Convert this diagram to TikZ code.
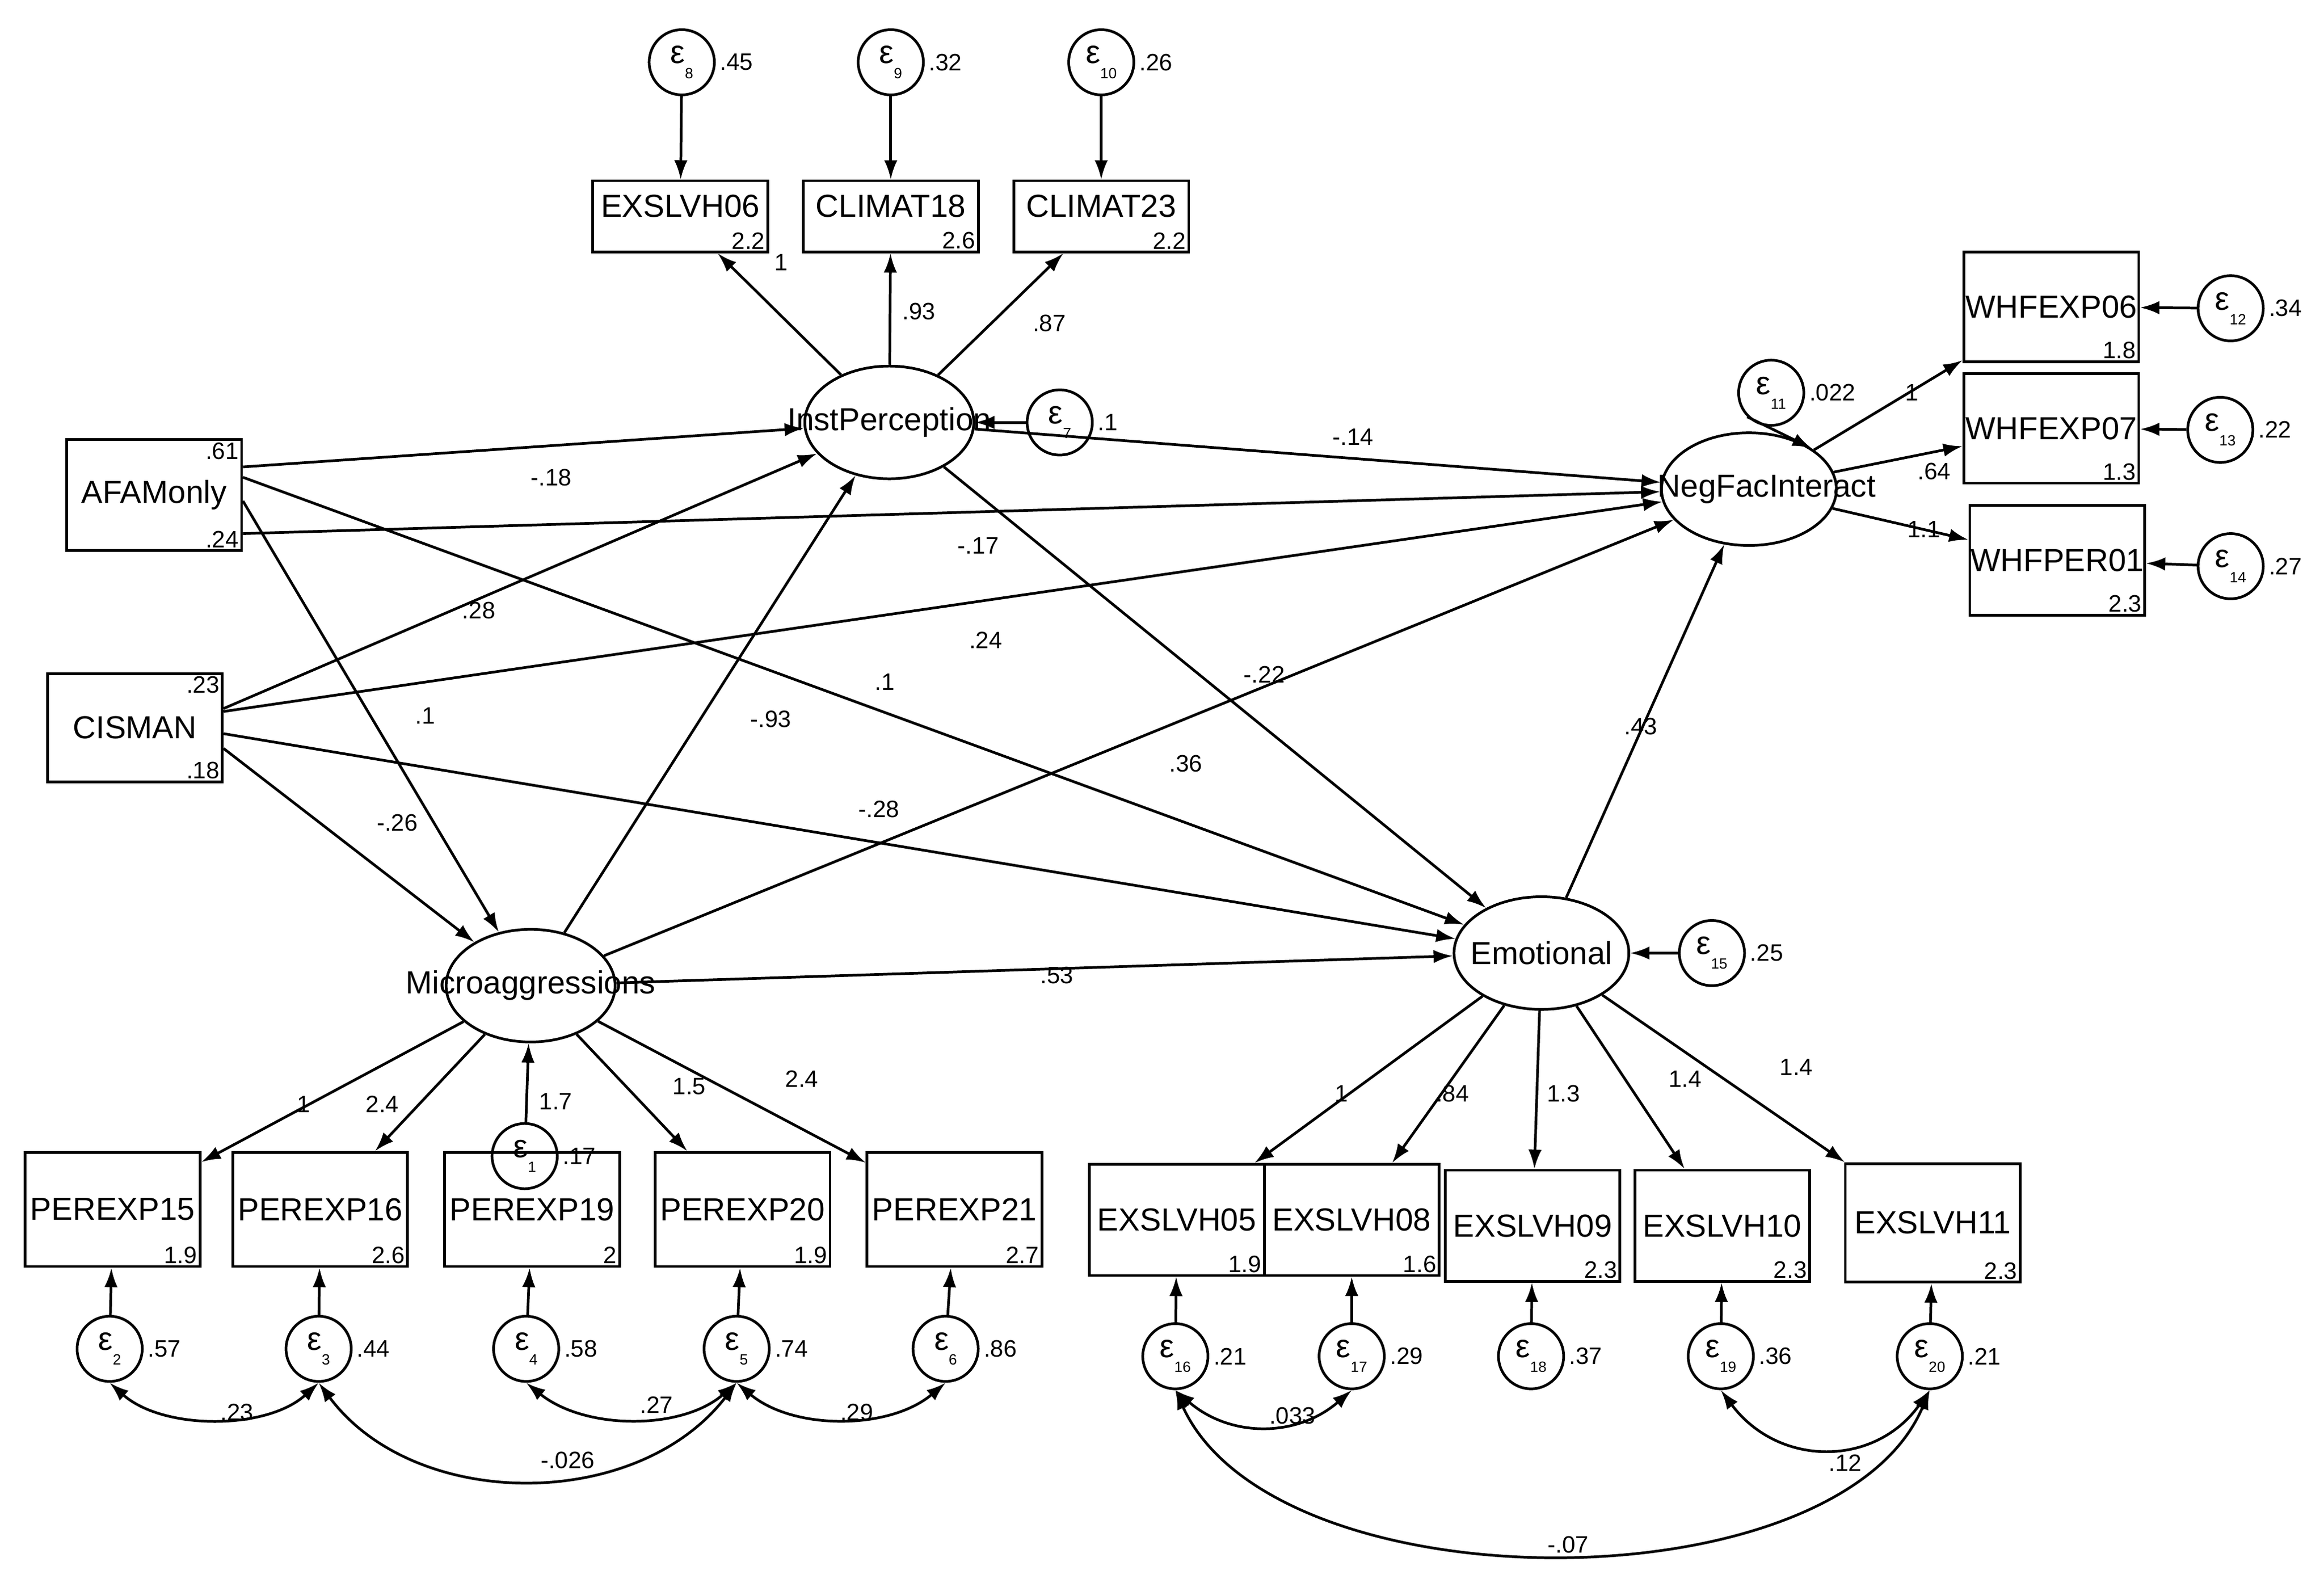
\documentclass[tikz,border=0pt]{standalone}
\usepackage{fontspec}
\setmainfont{Liberation Sans}
\usetikzlibrary{arrows.meta,shapes.geometric}
\newcommand\epsl[1]{ε\raisebox{-0.45em}{\fontsize{10}{10}\selectfont #1}}
\begin{document}
\begin{tikzpicture}[x=1pt,y=-1pt,
 line width=1.8pt,
 >={Latex[length=13pt,width=9pt]},
 box/.style={draw,minimum width=118pt,minimum height=#1,inner sep=0pt},
 lab/.style={font=\fontsize{21.5}{22}\selectfont,inner sep=0pt},
 lat/.style={draw,ellipse,minimum width=114pt,minimum height=76pt,inner sep=0pt},
 err/.style={draw,circle,minimum size=44pt,inner sep=0pt,font=\fontsize{22}{22}\selectfont},
 num/.style={font=\fontsize{16}{16}\selectfont,inner sep=1pt},
 val/.style={font=\fontsize{16}{16}\selectfont,inner sep=2pt}]
\useasboundingbox (0,0) rectangle (1568,1068);
% boxes
\newcommand\bx[7]{\node[box=#4] (#1) at (#2,#3) {};
 \node[lab] at ([yshift=#7]#1.center) {#5};
 \node[val,anchor=south east] at (#1.south east) {#6};}
\bx{x06}{459}{146}{48pt}{EXSLVH06}{2.2}{7pt}
\bx{c18}{601}{146}{48pt}{CLIMAT18}{2.6}{7pt}
\bx{c23}{743}{146}{48pt}{CLIMAT23}{2.2}{7pt}
\bx{w06}{1384}{207}{74pt}{WHFEXP06}{1.8}{0pt}
\bx{w07}{1384}{289}{74pt}{WHFEXP07}{1.3}{0pt}
\bx{w01}{1388}{378}{74pt}{WHFPER01}{2.3}{0pt}
\node[box=75pt] (afam) at (104,334) {};
\node[lab] at (afam) {AFAMonly};
\node[val,anchor=north east] at (afam.north east) {.61};
\node[val,anchor=south east] at (afam.south east) {.24};
\node[box=73pt] (cis) at (91,491) {};
\node[lab] at (cis) {CISMAN};
\node[val,anchor=north east] at (cis.north east) {.23};
\node[val,anchor=south east] at (cis.south east) {.18};
\bx{p15}{76}{816}{77pt}{PEREXP15}{1.9}{0pt}
\bx{p16}{216}{816}{77pt}{PEREXP16}{2.6}{0pt}
\bx{p19}{359}{816}{77pt}{PEREXP19}{2}{0pt}
\bx{p20}{501}{816}{77pt}{PEREXP20}{1.9}{0pt}
\bx{p21}{644}{816}{77pt}{PEREXP21}{2.7}{0pt}
\bx{e05}{794}{823}{75pt}{EXSLVH05}{1.9}{0pt}
\bx{e08}{912}{823}{75pt}{EXSLVH08}{1.6}{0pt}
\bx{e09}{1034}{827}{75pt}{EXSLVH09}{2.3}{0pt}
\bx{e10}{1162}{827}{75pt}{EXSLVH10}{2.3}{0pt}
\bx{e11b}{1304}{825}{80pt}{EXSLVH11}{2.3}{0pt}
% latents
\node[lat] (ip) at (600,285) {};
\node[lab] at (600,285) {InstPerception};
\node[lat,minimum width=118pt] (nf) at (1180,330) {};
\node[lab] at (1192,330) {NegFacInteract};
\node[lat] (mi) at (358,665) {};
\node[lab] at (358,665) {Microaggressions};
\node[lat,minimum width=118pt] (em) at (1040,643) {};
\node[lab] at (1040,643) {Emotional};
% errors
\newcommand\er[5]{\node[err] (#1) at (#2,#3) {\epsl{#4}};
 \node[val,anchor=west] at (#1.east) {#5};}
\er{r8}{460}{42}{8}{.45}
\er{r9}{601}{42}{9}{.32}
\er{r10}{743}{42}{10}{.26}
\er{r7}{715}{285}{7}{.1}
\er{r11}{1195}{265}{11}{.022}
\er{r12}{1505}{208}{12}{.34}
\er{r13}{1498}{290}{13}{.22}
\er{r14}{1505}{382}{14}{.27}
\er{r15}{1155}{643}{15}{.25}
\er{r1}{354}{780}{1}{.17}
\er{r2}{74}{910}{2}{.57}
\er{r3}{215}{910}{3}{.44}
\er{r4}{355}{910}{4}{.58}
\er{r5}{497}{910}{5}{.74}
\er{r6}{638}{910}{6}{.86}
\er{r16}{793}{915}{16}{.21}
\er{r17}{912}{915}{17}{.29}
\er{r18}{1033}{915}{18}{.37}
\er{r19}{1161}{915}{19}{.36}
\er{r20}{1302}{915}{20}{.21}
% error arrows
\foreach \a/\b in {r8/x06,r9/c18,r10/c23,r7/ip,r12/w06,r13/w07,r14/w01,r15/em,r2/p15,r3/p16,r4/p19,r5/p20,r6/p21,r16/e05,r17/e08,r18/e09,r19/e10,r20/e11b}
 \draw[->] (\a) -- (\b);
\draw[->] (r11.south west) -- (nf.north east);
\draw[->] (r1) -- (mi);
% structural paths
\newcommand\pth[4]{\draw[->] (#1) -- (#2); \node[num] at (#3) {#4};}
\pth{ip}{x06}{527,177}{1}
\pth{ip}{c18}{620,210}{.93}
\pth{ip}{c23}{708,218}{.87}
\pth{[yshift=19pt]afam.east}{ip}{372,322}{-.18}
\pth{ip}{nf}{913,295}{-.14}
\pth{[yshift=-26pt]afam.east}{nf}{660,368}{-.17}
\pth{[yshift=12pt]afam.east}{em}{597,460}{.1}
\pth{[yshift=-4pt]afam.east}{mi}{287,483}{.1}
\pth{[yshift=13pt]cis.east}{ip}{323,412}{.28}
\pth{[yshift=11pt]cis.east}{nf}{665,432}{.24}
\pth{ip}{em}{853,455}{-.22}
\pth{mi}{ip}{520,485}{-.93}
\pth{mi}{nf}{800,515}{.36}
\pth{em}{nf}{1107,490}{.43}
\pth{[yshift=-14pt]cis.east}{mi}{268,555}{-.26}
\pth{[yshift=-4pt]cis.east}{em}{593,546}{-.28}
\pth{mi}{em}{713,658}{.53}
\pth{nf}{w06}{1290,265}{1}
\pth{nf}{w07}{1305,318}{.64}
\pth{nf}{w01}{1298,357}{1.1}
\pth{mi}{p15}{205,745}{1}
\pth{mi}{p16}{258,745}{2.4}
\pth{mi}{p20}{465,733}{1.5}
\pth{mi}{p21}{541,728}{2.4}
\node[num] at (375,743) {1.7};
\pth{em}{e05}{905,738}{1}
\pth{em}{e08}{980,738}{.84}
\pth{em}{e09}{1055,738}{1.3}
\pth{em}{e10}{1137,728}{1.4}
\pth{em}{e11b}{1212,720}{1.4}
% covariances
\draw[<->] (r2.south) .. controls (110,965) and (180,965) .. (r3.south);
\node[num] at (160,953) {.23};
\draw[<->] (r4.south) .. controls (395,965) and (460,965) .. (r5.south);
\node[num] at (443,948) {.27};
\draw[<->] (r5.south) .. controls (535,965) and (600,965) .. (r6.south);
\node[num] at (578,953) {.29};
\draw[<->] (r3.south) .. controls (280,1020) and (430,1020) .. (r5.south);
\node[num] at (383,985) {-.026};
\draw[<->] (r16.south) .. controls (830,970) and (875,970) .. (r17.south);
\node[num] at (872,955) {.033};
\draw[<->] (r19.south) .. controls (1200,990) and (1265,990) .. (r20.south);
\node[num] at (1245,987) {.12};
\draw[<->] (r16.south) .. controls (860,1085) and (1240,1085) .. (r20.south);
\node[num] at (1058,1042) {-.07};
\end{tikzpicture}
\end{document}
